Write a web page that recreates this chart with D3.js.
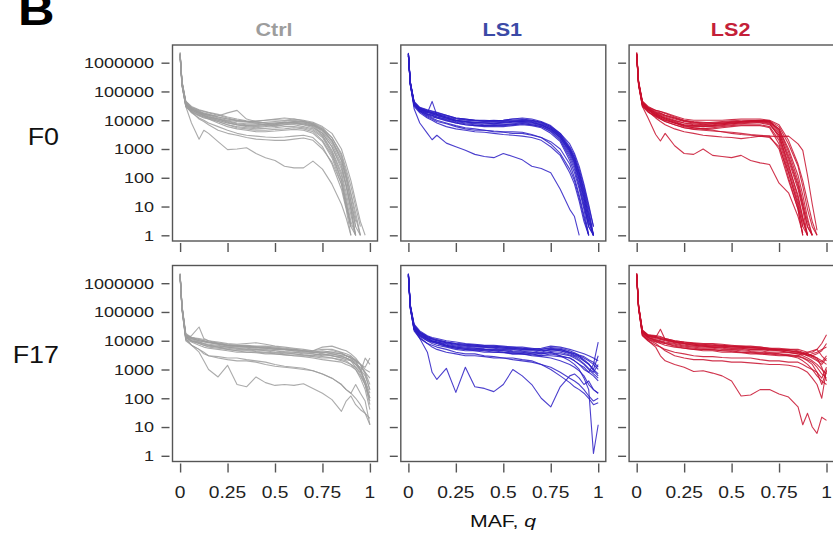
<!DOCTYPE html>
<html>
<head>
<meta charset="utf-8">
<script src="https://cdn.jsdelivr.net/npm/d3@7"></script>
<style>
  body { margin: 0; background: #fff; }
  svg { display: block; font-family: "Liberation Sans", Arial, Helvetica, sans-serif; }
</style>
</head>
<body>
<svg width="833" height="539"></svg>
<script>
// minor allele frequency grid shared by every curve
const qGrid = [0, 0.01, 0.03, 0.06, 0.1, 0.125, 0.15, 0.2, 0.25, 0.3, 0.35, 0.4, 0.45, 0.5,
  0.55, 0.6, 0.65, 0.7, 0.75, 0.8, 0.85, 0.875, 0.9, 0.925, 0.95, 0.975, 1];

const colTitles = ['Ctrl', 'LS1', 'LS2'];
const rowLabels = ['F0', 'F17'];
const yTicks = [1, 10, 100, 1000, 10000, 100000, 1000000];
const yTickLabels = ['1', '10', '100', '1000', '10000', '100000', '1000000'];
const xTicks = [0, 0.25, 0.5, 0.75, 1];
const xTickLabels = ['0', '0.25', '0.5', '0.75', '1'];

// site counts per q, one array per population
const ctrlF0 = [
  [2e6, 2e5, 4e4, 2.5e4, 2e4, 1.7e4, 1.5e4, 1.2e4, 1e4, 9000, 8500, 8000, 8500, 9000, 9500, 1e4, 9000, 7000, 4000, 1500, 300, 60, 10, 2, 1],
  [1.8e6, 1.8e5, 3.5e4, 2.2e4, 1.7e4, 1.5e4, 1.3e4, 1.1e4, 9000, 7500, 7000, 7000, 7500, 8000, 8500, 8000, 7500, 6000, 3000, 900, 150, 30, 5, 1],
  [2.2e6, 2.2e5, 4.5e4, 2.8e4, 2.2e4, 2e4, 1.8e4, 1.5e4, 1.2e4, 1e4, 9000, 8000, 7000, 6500, 7000, 7500, 7000, 6500, 4500, 2000, 500, 120, 25, 4, 1],
  [1.6e6, 1.6e5, 3e4, 1.9e4, 1.4e4, 1.2e4, 1.1e4, 9000, 7000, 6000, 5500, 5000, 5200, 5500, 6000, 6000, 5500, 4500, 2500, 700, 90, 15, 2],
  [2e6, 2e5, 4e4, 2.4e4, 1.8e4, 1.6e4, 1.5e4, 1.4e4, 1.8e4, 2.2e4, 1.1e4, 9000, 8000, 7000, 7500, 8000, 8000, 7000, 5000, 2500, 600, 150, 30, 6, 1],
  [1.9e6, 1.9e5, 3.8e4, 2.3e4, 1.6e4, 1.4e4, 1.2e4, 9000, 7000, 5500, 5000, 4500, 4500, 4800, 5000, 5500, 5000, 4000, 2000, 600, 80, 12, 2],
  [2.1e6, 2.1e5, 4.2e4, 2.6e4, 1.9e4, 1.6e4, 1.4e4, 1.1e4, 8500, 7000, 6000, 5500, 6000, 7000, 8000, 9000, 9000, 8000, 5500, 2500, 700, 200, 50, 10, 2],
  [1.7e6, 1.7e5, 3.2e4, 1.8e4, 1.2e4, 1e4, 8000, 6000, 4500, 3500, 3000, 2800, 2600, 2500, 2600, 2800, 3000, 2500, 1200, 300, 40, 8, 1],
  [1.9e6, 1.9e5, 3.6e4, 2e4, 1.1e4, 9000, 7000, 4500, 3500, 3000, 2500, 2200, 2100, 2000, 2000, 2200, 2400, 2000, 1000, 350, 60, 10, 2],
  [1.8e6, 1.8e5, 3e4, 8000, 2200, 4500, 3500, 1800, 950, 1000, 1100, 700, 500, 400, 250, 220, 220, 380, 200, 60, 12, 4, 1],
  [2e6, 2e5, 3.8e4, 2.4e4, 1.9e4, 1.7e4, 1.6e4, 1.3e4, 1.1e4, 9500, 9000, 9000, 1e4, 1.1e4, 1.2e4, 1.1e4, 1e4, 8500, 6000, 3500, 1000, 300, 80, 15, 3, 1],
  [1.7e6, 1.7e5, 3.3e4, 2.1e4, 1.5e4, 1.3e4, 1.2e4, 1e4, 8000, 7000, 6500, 6500, 7000, 7500, 8000, 8500, 8000, 6500, 3500, 1200, 200, 50, 8, 1],
  [2.3e6, 2.3e5, 4.6e4, 3e4, 2.3e4, 2.1e4, 1.9e4, 1.6e4, 1.3e4, 1.1e4, 9500, 8500, 8000, 8000, 8500, 9000, 8500, 7500, 5000, 2000, 400, 90, 15, 3],
  [1.6e6, 1.6e5, 3e4, 2e4, 1.5e4, 1.3e4, 1.1e4, 8000, 6000, 5000, 4500, 4000, 4000, 4200, 4500, 4800, 4500, 3500, 1800, 500, 60, 10, 2, 1],
  [2e6, 2e5, 4.2e4, 2.7e4, 2.1e4, 1.8e4, 1.6e4, 1.3e4, 1.1e4, 1e4, 9000, 9500, 1e4, 1.05e4, 1e4, 1.1e4, 9500, 7500, 4500, 1800, 400, 100, 15, 2],
  [1.9e6, 1.9e5, 3.7e4, 2.3e4, 1.8e4, 1.5e4, 1.3e4, 1e4, 8000, 7000, 6500, 6000, 6500, 6000, 7000, 7000, 6000, 5000, 2800, 800, 120, 20, 3, 1],
  [2.1e6, 2.1e5, 4e4, 2.5e4, 1.7e4, 1.4e4, 1.3e4, 1.1e4, 9500, 8000, 7500, 7500, 7000, 7500, 8500, 8000, 7000, 5500, 3500, 1200, 250, 50, 8, 1]
];

const ls1F0 = [
  [2e6, 2e5, 4e4, 2.5e4, 2e4, 1.8e4, 1.6e4, 1.3e4, 1.1e4, 1e4, 9500, 9000, 9000, 9000, 9500, 1e4, 9500, 8000, 5500, 3000, 900, 400, 120, 25, 5, 1],
  [1.9e6, 1.9e5, 3.8e4, 2.4e4, 1.8e4, 4.5e4, 1.5e4, 1.2e4, 9000, 8000, 7500, 7000, 7000, 7000, 7500, 8000, 7500, 6500, 4500, 2500, 700, 300, 80, 15, 2, 1],
  [2.1e6, 2.1e5, 4.2e4, 2.7e4, 2.2e4, 2e4, 1.8e4, 1.5e4, 1.2e4, 1.1e4, 1e4, 1e4, 9500, 1e4, 1.1e4, 1.2e4, 1.1e4, 9000, 6500, 3500, 1200, 600, 200, 50, 10, 2],
  [1.8e6, 1.8e5, 3.5e4, 2.2e4, 1.5e4, 1.3e4, 1.2e4, 1e4, 8000, 7000, 6500, 6000, 6000, 6000, 6500, 7000, 6500, 5500, 3500, 1800, 400, 150, 40, 8, 1],
  [2e6, 2e5, 4e4, 2.3e4, 1.7e4, 1.5e4, 1.3e4, 1.1e4, 9500, 8500, 8000, 8000, 8000, 8500, 9000, 9000, 8500, 7000, 5000, 2500, 800, 350, 100, 20, 3, 1],
  [1.7e6, 1.7e5, 3e4, 1.8e4, 1.2e4, 1e4, 8000, 6000, 5000, 4500, 4000, 3800, 3500, 3200, 3000, 2800, 2500, 2000, 1200, 600, 150, 60, 15, 3, 1],
  [1.9e6, 1.9e5, 3.6e4, 2e4, 1.3e4, 1.1e4, 9000, 7500, 6000, 5000, 4500, 4500, 4200, 4000, 4000, 3800, 3200, 2500, 1500, 700, 200, 80, 20, 4, 1],
  [1.8e6, 1.8e5, 2.5e4, 8000, 3500, 2100, 3000, 1600, 1200, 900, 650, 550, 500, 700, 550, 420, 250, 210, 150, 40, 8, 4.5, 1],
  [2.2e6, 2.2e5, 4.5e4, 2.8e4, 2.3e4, 2.1e4, 1.9e4, 1.5e4, 1.2e4, 1.1e4, 1e4, 9500, 9500, 1e4, 1.1e4, 1.1e4, 1e4, 8500, 6000, 3500, 1500, 700, 250, 60, 12, 2],
  [1.8e6, 1.8e5, 3.4e4, 2.1e4, 1.6e4, 1.4e4, 1.2e4, 9500, 8000, 7000, 6500, 6500, 6500, 7000, 7000, 7500, 7000, 6000, 4000, 2000, 500, 200, 50, 10, 2, 1],
  [2e6, 2e5, 3.9e4, 2.4e4, 1.9e4, 1.7e4, 1.4e4, 1.2e4, 1e4, 9000, 8500, 8500, 8500, 8500, 9000, 9500, 9000, 7500, 5500, 3000, 1000, 450, 150, 35, 6, 1],
  [1.7e6, 1.7e5, 3.2e4, 2e4, 1.4e4, 1.2e4, 1e4, 8000, 6500, 5500, 5000, 4500, 4000, 3800, 3500, 3500, 3000, 2500, 1800, 1000, 300, 100, 25, 5, 1],
  [2.1e6, 2.1e5, 4.1e4, 2.6e4, 2e4, 1.8e4, 1.6e4, 1.3e4, 1e4, 9000, 8500, 8000, 7500, 8000, 8500, 9000, 8500, 7000, 5000, 2800, 1000, 500, 150, 30, 4, 1],
  [2e6, 2e5, 4e4, 2.6e4, 2.1e4, 1.9e4, 1.7e4, 1.4e4, 1.15e4, 1.05e4, 1e4, 9500, 1e4, 9500, 1e4, 1.05e4, 1e4, 8500, 6000, 3200, 1100, 500, 150, 40, 8, 1],
  [1.8e6, 1.8e5, 3.6e4, 2.2e4, 1.6e4, 1.5e4, 1.3e4, 1.05e4, 8500, 7500, 7000, 6500, 6800, 6500, 7000, 7500, 7000, 6000, 4200, 2200, 600, 250, 60, 12, 2],
  [2.1e6, 2.1e5, 4.3e4, 2.5e4, 1.9e4, 1.6e4, 1.5e4, 1.2e4, 1e4, 9000, 8000, 8000, 7500, 8000, 8000, 8500, 8000, 7000, 4800, 2600, 850, 350, 90, 20, 3, 1]
];

const ls2F0 = [
  [2e6, 2e5, 4e4, 2.5e4, 1.8e4, 1.6e4, 1.4e4, 1.1e4, 9000, 8000, 7500, 7500, 8000, 8500, 9000, 9500, 1e4, 9500, 4000, 400, 40, 8, 1],
  [1.8e6, 1.8e5, 3.5e4, 2.2e4, 1.5e4, 1.3e4, 1.2e4, 9000, 7000, 6500, 6000, 6500, 7000, 7500, 8000, 8500, 9000, 8000, 2500, 200, 15, 3, 1],
  [2.2e6, 2.2e5, 4.5e4, 2.8e4, 2.2e4, 2e4, 1.7e4, 1.3e4, 1e4, 9000, 8500, 8000, 8000, 8500, 9000, 9500, 9500, 9000, 5000, 800, 80, 15, 3, 1],
  [1.7e6, 1.7e5, 3.2e4, 2e4, 1.3e4, 1.1e4, 9000, 7000, 5500, 5000, 5000, 5500, 6000, 6500, 7000, 7000, 7000, 6000, 2000, 150, 10, 2],
  [1.9e6, 1.9e5, 3.8e4, 2.4e4, 1.6e4, 1.4e4, 1.2e4, 9500, 8000, 7000, 7000, 7000, 7500, 8000, 8500, 9000, 9000, 8500, 3500, 500, 50, 10, 2, 1],
  [2e6, 2e5, 4e4, 2.6e4, 1.7e4, 1.4e4, 1.1e4, 8000, 6000, 5500, 5000, 5000, 5500, 6000, 6500, 6500, 6500, 5500, 1500, 100, 8, 1],
  [2.1e6, 2.1e5, 4.2e4, 2.7e4, 2e4, 1.8e4, 1.5e4, 1.2e4, 9500, 8500, 8000, 8500, 9000, 9500, 1e4, 1e4, 1e4, 9500, 6000, 1500, 250, 50, 8, 2, 1],
  [1.8e6, 1.8e5, 3.5e4, 2e4, 1.2e4, 9000, 7000, 5000, 4000, 3500, 3000, 2800, 2600, 2500, 2300, 2500, 2800, 2500, 1200, 150, 12, 2, 1],
  [1.9e6, 1.9e5, 3.6e4, 2.3e4, 1.5e4, 1.2e4, 1e4, 8000, 6500, 5500, 5000, 4500, 4000, 3500, 3200, 3000, 2800, 2800, 2700, 2800, 1500, 900, 120, 12, 1.5],
  [1.8e6, 1.8e5, 3e4, 1.2e4, 3200, 1900, 3500, 1300, 700, 650, 1000, 600, 550, 500, 600, 400, 330, 290, 65, 30, 4.5, 1.2],
  [2e6, 2e5, 3.9e4, 2.5e4, 1.4e4, 1.1e4, 9000, 7000, 5500, 4800, 4500, 4200, 4000, 3800, 3500, 3200, 3000, 2800, 1000, 80, 8, 1],
  [2.3e6, 2.3e5, 4.6e4, 3e4, 2.2e4, 2e4, 1.8e4, 1.4e4, 1.1e4, 1e4, 1e4, 1e4, 1e4, 1.05e4, 1.1e4, 1.1e4, 1.1e4, 1e4, 7000, 2000, 300, 80, 15, 3, 1],
  [1.6e6, 1.6e5, 3e4, 1.9e4, 1.4e4, 1.2e4, 1e4, 8000, 7000, 6500, 6500, 6500, 7000, 7500, 8000, 8000, 8000, 7000, 3000, 300, 20, 4, 1],
  [2e6, 2e5, 4e4, 2.5e4, 1.9e4, 1.7e4, 1.5e4, 1.2e4, 9500, 8500, 8000, 8000, 8500, 9000, 9000, 9500, 9500, 9000, 4500, 600, 60, 12, 2, 1],
  [1.9e6, 1.9e5, 3.7e4, 2.3e4, 1.6e4, 1.3e4, 1.1e4, 8500, 6500, 6000, 6000, 6000, 6500, 7000, 7500, 8000, 8500, 7500, 3000, 250, 25, 4, 1],
  [2.1e6, 2.1e5, 4.1e4, 2.6e4, 1.8e4, 1.5e4, 1.3e4, 1e4, 8000, 7500, 7000, 7500, 7500, 8000, 8500, 9000, 9500, 8500, 5000, 1000, 120, 25, 4, 1]
];

const ctrlF17 = [
  [2e6, 1.5e5, 1.5e4, 1.2e4, 1e4, 9000, 8500, 8000, 7000, 6500, 6000, 6000, 5500, 5000, 5000, 4500, 4000, 4000, 4500, 4000, 3500, 3000, 2500, 2000, 1500, 800, 300],
  [1.8e6, 1.3e5, 1.2e4, 1.5e4, 3e4, 1.2e4, 1e4, 8000, 7000, 6500, 6500, 6000, 6000, 5500, 5000, 5000, 4500, 4000, 3500, 3000, 2500, 2500, 2000, 1500, 1000, 600, 200],
  [2.2e6, 1.7e5, 1.8e4, 1.3e4, 1.2e4, 1.1e4, 1e4, 9000, 8000, 7500, 8000, 8500, 7500, 6500, 6000, 5500, 5000, 4500, 6000, 6500, 5000, 4500, 3500, 2500, 1500, 1200, 2500],
  [1.6e6, 1.2e5, 1.1e4, 9000, 7000, 6000, 5500, 5000, 4500, 4000, 4000, 3800, 3500, 3500, 3200, 3000, 3000, 2800, 2500, 2500, 2000, 1800, 1500, 1000, 500, 200, 40],
  [2e6, 1.5e5, 1.4e4, 1.1e4, 9000, 8000, 7000, 6500, 6000, 5500, 5500, 5000, 5000, 4500, 4200, 4000, 3500, 3500, 3000, 3000, 2800, 2500, 2200, 1800, 1000, 400, 100],
  [1.9e6, 1.4e5, 1.3e4, 1e4, 8000, 7000, 6500, 6000, 5000, 4500, 4500, 4200, 4000, 3800, 3500, 3500, 3200, 3000, 3500, 3000, 2500, 2200, 2000, 1500, 1200, 800, 500],
  [1.7e6, 1.3e5, 1.1e4, 7000, 5000, 4000, 3000, 2500, 2200, 2000, 2000, 1800, 1500, 1300, 1200, 1100, 1000, 900, 700, 500, 300, 200, 150, 100, 60, 30, 12],
  [1.8e6, 1.4e5, 1.2e4, 7000, 4000, 2000, 1000, 550, 1400, 300, 250, 550, 350, 280, 300, 280, 320, 220, 150, 90, 35, 80, 120, 60, 40, 30, 20],
  [2.1e6, 1.6e5, 1.6e4, 1.3e4, 1.1e4, 1e4, 9000, 8000, 7000, 7000, 6500, 6000, 6000, 5500, 5000, 5000, 4500, 4500, 5000, 5000, 4000, 3500, 3000, 2000, 1000, 300, 60],
  [1.9e6, 1.4e5, 1.4e4, 1e4, 8500, 7500, 7000, 6000, 5500, 5000, 4800, 4500, 4500, 4000, 3800, 3500, 3200, 3000, 2800, 2500, 2200, 2000, 1500, 1200, 800, 2500, 1500],
  [1.7e6, 1.2e5, 1e4, 7000, 5000, 3500, 3000, 2800, 2500, 2500, 2200, 2000, 1800, 1500, 1300, 1200, 1100, 900, 700, 500, 300, 200, 150, 300, 150, 80, 12],
  [2e6, 1.5e5, 1.5e4, 1.2e4, 1e4, 9500, 9000, 8500, 7500, 7000, 7000, 6500, 6500, 6000, 5500, 5000, 4500, 4000, 4000, 3500, 3000, 3000, 2500, 2000, 1500, 700, 200],
  [1.8e6, 1.4e5, 1.3e4, 9500, 8000, 7000, 6000, 5500, 5000, 4500, 4000, 4000, 3800, 3500, 3300, 3000, 2800, 2500, 2200, 2000, 1800, 1500, 1300, 1000, 600, 300, 100],
  [2e6, 1.5e5, 1.6e4, 1.3e4, 1.1e4, 1e4, 9000, 7500, 6500, 6000, 6000, 5500, 5500, 5000, 4800, 4500, 4200, 4000, 4000, 3800, 3500, 3000, 2500, 1500, 900, 400, 150],
  [1.9e6, 1.4e5, 1.3e4, 1e4, 9000, 8000, 7500, 7000, 6000, 5500, 5000, 5000, 4500, 4500, 4000, 4000, 3800, 3500, 3200, 3500, 3000, 2500, 2000, 1200, 700, 300, 80],
  [2.1e6, 1.6e5, 1.5e4, 1.2e4, 1e4, 9500, 8500, 7500, 7000, 6500, 6500, 6000, 5500, 5500, 5000, 4500, 4500, 4200, 4000, 4500, 3800, 3000, 2800, 2200, 1500, 1000, 800]
];

const ls1F17 = [
  [2e6, 1.5e5, 2.5e4, 1.2e4, 4000, 800, 450, 1100, 160, 1200, 250, 220, 170, 300, 1000, 600, 300, 100, 50, 250, 600, 700, 500, 300, 400, 200, 150],
  [1.8e6, 1.4e5, 2.2e4, 1.2e4, 8000, 7000, 6000, 5000, 4000, 3500, 3500, 3000, 2800, 2500, 2500, 2200, 2000, 1500, 1000, 600, 350, 250, 200, 150, 100, 60, 70],
  [2e6, 1.6e5, 3e4, 1.6e4, 1.2e4, 1e4, 9000, 7000, 6000, 5500, 5000, 5000, 4500, 4500, 4000, 4000, 3500, 3500, 4000, 3000, 2000, 1500, 1000, 500, 200, 1.2, 12],
  [1.9e6, 1.5e5, 2.8e4, 1.5e4, 1e4, 9000, 8000, 6500, 5500, 5000, 4800, 4500, 4500, 4000, 3800, 3500, 3500, 3000, 3500, 3000, 2500, 2000, 1500, 1000, 800, 1500, 9000],
  [2.1e6, 1.7e5, 3.5e4, 2e4, 1.4e4, 1.2e4, 1.1e4, 9000, 8000, 7500, 7000, 6500, 6500, 6000, 5500, 5500, 5000, 5500, 6500, 6000, 5000, 4500, 4000, 3500, 3000, 2500, 2000],
  [2e6, 1.6e5, 3e4, 1.8e4, 1.2e4, 1e4, 9000, 8000, 7000, 6500, 6000, 6000, 5500, 5000, 5000, 4500, 4500, 4000, 5000, 5000, 4000, 3500, 3000, 2500, 2000, 1500, 1000],
  [1.7e6, 1.3e5, 2.5e4, 1.4e4, 1e4, 8000, 7000, 6000, 5000, 4500, 4500, 4000, 4000, 3800, 3500, 3500, 3200, 3000, 3000, 2800, 2500, 2000, 1500, 1200, 800, 600, 400],
  [2.2e6, 1.8e5, 3.8e4, 2.2e4, 1.5e4, 1.3e4, 1.2e4, 1e4, 9000, 8000, 7500, 7000, 7000, 6500, 6000, 6000, 5500, 5000, 5500, 5000, 4000, 3500, 3000, 2000, 1500, 1000, 700],
  [1.9e6, 1.5e5, 2.8e4, 1.6e4, 1.1e4, 9500, 8500, 7000, 6000, 5500, 5500, 5000, 4800, 4500, 4200, 4000, 4000, 3500, 3800, 3500, 3000, 2500, 2000, 1500, 1000, 700, 500],
  [1.8e6, 1.4e5, 2.6e4, 1.5e4, 1.1e4, 9000, 8000, 6500, 5500, 5000, 4500, 4500, 4000, 4000, 3500, 3500, 3000, 2800, 2500, 2000, 1500, 1200, 900, 600, 300, 200, 150],
  [2e6, 1.6e5, 3.2e4, 1.9e4, 1.3e4, 1.1e4, 1e4, 8500, 7500, 7000, 6500, 6000, 6000, 5500, 5500, 5000, 5000, 4500, 5000, 4500, 3500, 3000, 2500, 2000, 1500, 1000, 3000],
  [1.7e6, 1.3e5, 2.4e4, 1.3e4, 8000, 6000, 5000, 4000, 3500, 3000, 3000, 2800, 2500, 2500, 2200, 2000, 1800, 1500, 1200, 800, 500, 400, 300, 200, 120, 80, 100],
  [2e6, 1.6e5, 3.3e4, 1.9e4, 1.3e4, 1.15e4, 1e4, 8500, 7500, 6800, 6500, 6200, 5800, 5500, 5200, 5000, 4800, 4500, 4800, 4500, 3800, 3200, 2800, 2200, 1600, 900, 600],
  [1.9e6, 1.5e5, 2.9e4, 1.7e4, 1.2e4, 1e4, 9000, 7500, 6500, 6000, 5500, 5200, 5000, 4800, 4500, 4300, 4000, 3800, 4200, 4000, 3200, 2800, 2200, 1600, 1100, 800, 1500],
  [2.1e6, 1.7e5, 3.4e4, 2e4, 1.4e4, 1.2e4, 1.05e4, 9000, 8000, 7500, 7200, 6800, 6500, 6000, 6000, 5500, 5200, 5000, 5800, 5500, 4500, 3800, 3200, 2800, 2200, 1800, 1200]
];

const ls2F17 = [
  [1.8e6, 1.4e5, 1.5e4, 1e4, 6000, 3000, 2000, 1500, 1200, 850, 900, 750, 600, 400, 120, 130, 200, 200, 140, 110, 50, 12, 30, 10, 6, 22, 17],
  [2e6, 1.5e5, 2e4, 1.4e4, 1.3e4, 2.5e4, 1.1e4, 9000, 8000, 7000, 6500, 6000, 6000, 5500, 5500, 5000, 5000, 4500, 4500, 4000, 4000, 3500, 3500, 3000, 2500, 2000, 1500],
  [2.2e6, 1.7e5, 2.4e4, 1.6e4, 1.5e4, 1.4e4, 1.2e4, 1e4, 9000, 8500, 8000, 8000, 7500, 7000, 6500, 6500, 6000, 5500, 5000, 5000, 5000, 4500, 4000, 4000, 5000, 8000, 1.6e4],
  [1.7e6, 1.3e5, 1.6e4, 1.1e4, 9000, 8000, 7000, 6000, 5500, 5000, 4500, 4500, 4000, 4000, 3800, 3500, 3500, 3200, 3000, 3000, 2800, 2500, 2000, 1500, 800, 300, 900],
  [1.9e6, 1.5e5, 1.9e4, 1.3e4, 1.1e4, 1e4, 9000, 8000, 7000, 6500, 6000, 6000, 5500, 5000, 5000, 4500, 4500, 4000, 4000, 3800, 3500, 3500, 3000, 2500, 2000, 1500, 2500],
  [1.8e6, 1.4e5, 1.7e4, 1.1e4, 8000, 6000, 4500, 3000, 2500, 2200, 2200, 2000, 2000, 1800, 1800, 1700, 1600, 1500, 1500, 1400, 1200, 1000, 800, 500, 300, 100, 1000],
  [2.1e6, 1.6e5, 2.2e4, 1.5e4, 1.4e4, 1.2e4, 1.1e4, 9500, 8500, 8000, 7500, 7500, 7000, 6500, 6000, 6000, 5500, 5000, 5000, 4500, 4000, 3500, 3000, 3500, 4000, 5000, 6000],
  [2e6, 1.5e5, 2e4, 1.3e4, 1e4, 9000, 8000, 7000, 6000, 5500, 5000, 5000, 4500, 4500, 4000, 4000, 3800, 3500, 3500, 3000, 2500, 2000, 1500, 1000, 600, 400, 300],
  [1.9e6, 1.4e5, 1.8e4, 1.2e4, 9500, 8500, 8000, 6500, 5500, 5000, 5000, 4800, 4500, 4200, 4000, 3800, 3500, 3500, 3200, 3000, 3000, 3500, 4000, 4500, 5000, 3000, 2000],
  [2.2e6, 1.7e5, 2.3e4, 1.6e4, 1.4e4, 1.3e4, 1.2e4, 1e4, 9000, 8000, 7500, 7000, 7000, 6500, 6500, 6000, 6000, 5500, 5500, 5000, 4500, 4000, 3500, 3000, 2500, 1200, 400],
  [1.7e6, 1.3e5, 1.5e4, 1e4, 7000, 6000, 5000, 4000, 3500, 3000, 2800, 2800, 2600, 2500, 2500, 2500, 2200, 2000, 2000, 1800, 1800, 1500, 1200, 1000, 800, 500, 1200],
  [2e6, 1.6e5, 2.1e4, 1.4e4, 1.2e4, 1.1e4, 1e4, 8500, 7500, 7000, 6500, 6000, 6000, 5500, 5500, 5000, 5000, 4800, 4500, 4000, 3500, 3000, 2500, 2000, 1500, 1000, 700],
  [2e6, 1.5e5, 2.1e4, 1.5e4, 1.3e4, 1.2e4, 1.1e4, 9000, 8000, 7500, 7000, 6500, 6500, 6000, 6000, 5500, 5500, 5000, 4800, 4500, 4200, 3800, 3200, 2800, 2200, 1800, 3000],
  [1.9e6, 1.4e5, 1.9e4, 1.3e4, 1.05e4, 9500, 8500, 7500, 6500, 6000, 5500, 5500, 5000, 4800, 4500, 4200, 4000, 3800, 3500, 3300, 3000, 2600, 2200, 1800, 1200, 700, 500],
  [2.1e6, 1.6e5, 2.2e4, 1.5e4, 1.3e4, 1.15e4, 1.05e4, 9000, 8000, 7500, 7000, 7000, 6500, 6200, 6000, 5800, 5500, 5200, 5000, 4500, 4000, 3500, 3500, 3000, 3500, 4500, 8000]
];

const panelData = [[ctrlF0, ls1F0, ls2F0], [ctrlF17, ls1F17, ls2F17]];
const lineColors = ['#9c9c9c', '#2b1dc4', '#c8102e'];
const titleColors = ['#9d9d9d', '#3b4aa6', '#c42038'];

const svg = d3.select('svg');
const panelW = 205;
const panelH = 196;
const colX = [172.5, 400.8, 629.1];
const rowY = [45, 265.5];
const axisColor = '#555';

// R-style pdf text looks horizontally stretched
function stretchText(parent, x, y, str, sx) {
  return parent.append('text')
    .attr('transform', `translate(${x},${y}) scale(${sx},1)`)
    .text(str);
}

stretchText(svg, 18, 25, 'B', 1.15)
  .attr('font-size', 44)
  .attr('font-weight', 'bold')
  .attr('fill', '#000');

rowLabels.forEach((lab, r) => {
  stretchText(svg, 59, r === 0 ? 144.5 : 363, lab, 1.12)
    .attr('font-size', 24)
    .attr('text-anchor', 'end')
    .attr('fill', '#111');
});

colTitles.forEach((t, c) => {
  stretchText(svg, colX[c] + panelW / 2 - 1, 36, t, 1.2)
    .attr('font-size', 18)
    .attr('font-weight', 'bold')
    .attr('text-anchor', 'middle')
    .attr('fill', titleColors[c]);
});

rowY.forEach((top, r) => {
  colX.forEach((left, c) => {
    const xScale = d3.scaleLinear()
      .domain([-0.04, 1.04])
      .range([left, left + panelW]);

    const yScale = d3.scaleLog()
      .domain([Math.pow(10, -0.198), Math.pow(10, 6.615)])
      .range([top + panelH, top]);

    const panel = svg.append('g');

    const line = d3.line()
      .x((d, i) => xScale(qGrid[i]))
      .y((d) => yScale(d));

    panel.append('g')
      .selectAll('path')
      .data(panelData[r][c])
      .enter()
      .append('path')
      .attr('d', line)
      .attr('fill', 'none')
      .attr('stroke', lineColors[c])
      .attr('stroke-width', 1.1)
      .attr('stroke-opacity', 0.85)
      .attr('stroke-linejoin', 'round');

    panel.append('rect')
      .attr('x', left)
      .attr('y', top)
      .attr('width', panelW)
      .attr('height', panelH)
      .attr('fill', 'none')
      .attr('stroke', axisColor)
      .attr('stroke-width', 1.4);

    const yAxis = panel.append('g')
      .attr('transform', `translate(${left - 3}, 0)`)
      .call(d3.axisLeft(yScale).tickValues(yTicks).tickSize(8).tickFormat(''));
    yAxis.select('.domain').remove();
    yAxis.selectAll('line').attr('stroke', axisColor).attr('stroke-width', 1.4);

    const xAxis = panel.append('g')
      .attr('transform', `translate(0, ${top + panelH + 2})`)
      .call(d3.axisBottom(xScale).tickValues(xTicks).tickSize(9).tickFormat(''));
    xAxis.select('.domain').remove();
    xAxis.selectAll('line').attr('stroke', axisColor).attr('stroke-width', 1.4);

    if (c === 0) {
      yTicks.forEach((v, i) => {
        stretchText(panel, left - 18.5, yScale(v), yTickLabels[i], 1.2)
          .attr('dy', '0.36em')
          .attr('font-size', 15)
          .attr('text-anchor', 'end')
          .attr('fill', '#222');
      });
    }

    if (r === 1) {
      xTicks.forEach((v, i) => {
        stretchText(panel, xScale(v), top + panelH + 36, xTickLabels[i], 1.2)
          .attr('font-size', 16)
          .attr('text-anchor', 'middle')
          .attr('fill', '#222');
      });
    }
  });
});

const mafLabel = stretchText(svg, 503, 527, '', 1.25)
  .attr('font-size', 17)
  .attr('text-anchor', 'middle')
  .attr('fill', '#111');
mafLabel.append('tspan').text('MAF, ');
mafLabel.append('tspan').attr('font-style', 'italic').text('q');
</script>
</body>
</html>
